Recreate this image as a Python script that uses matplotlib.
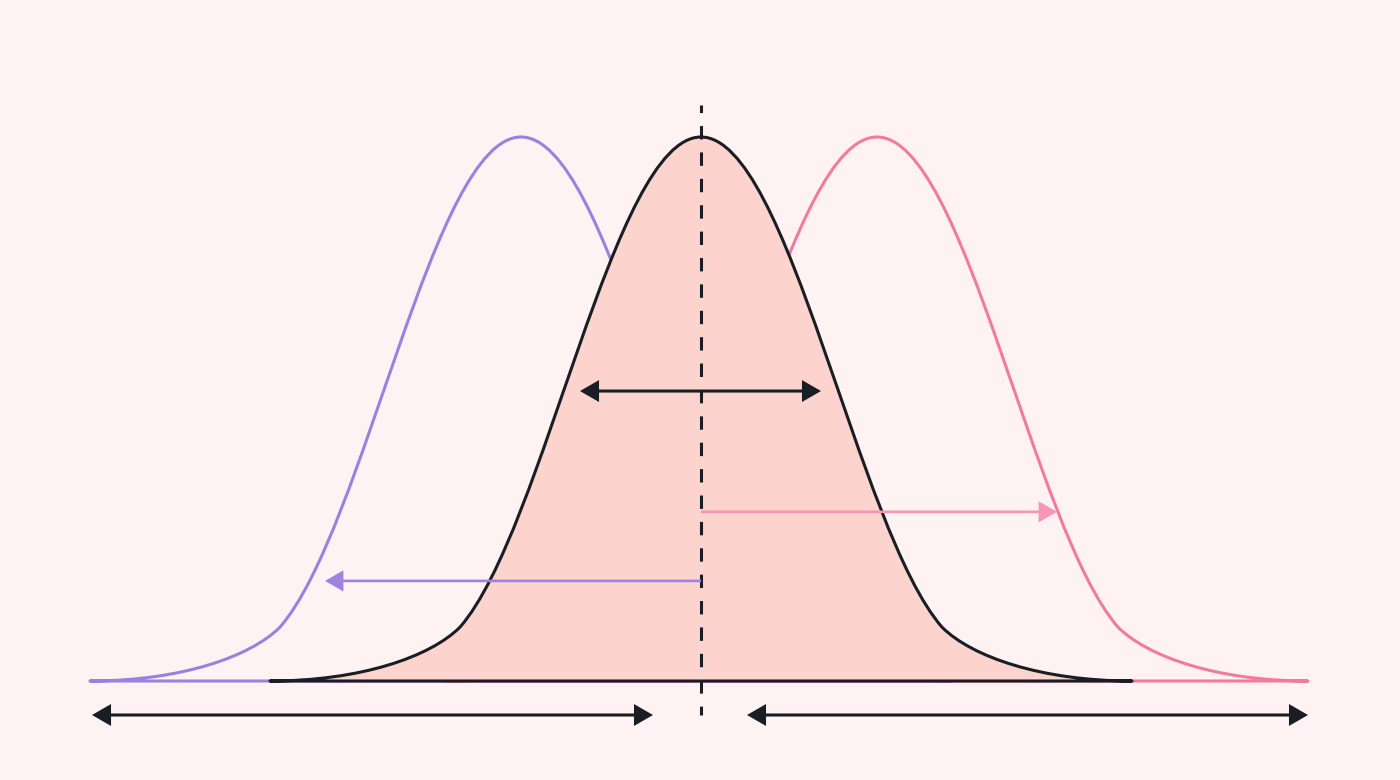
import matplotlib
matplotlib.use("Agg")
import matplotlib.pyplot as plt
from matplotlib.path import Path
from matplotlib.patches import PathPatch, FancyArrowPatch

plt.rcParams['lines.scale_dashes'] = False

# ---------------- data ----------------
series = ["lower", "reference", "higher"]
means = [-1.80, 0.00, 1.76]
peaks = [1.0, 1.0, 1.0]
# half bell shape as cubic Bezier control points (distance from mean, height)
tail_ctrl_d = [4.31, 3.41, 2.71, 2.41]
tail_ctrl_h = [0.0, 0.0, 0.044, 0.099]
rise_ctrl_d = [2.41, 1.56, 0.88, 0.0]
rise_ctrl_h = [0.099, 0.279, 1.0, 1.0]

spread_arrow_x = [-1.21, 1.20]
spread_arrow_y = 0.533
shift_right_x = [0.0, 3.56]
shift_right_y = 0.311
shift_left_x = [0.0, -3.76]
shift_left_y = 0.184
range_left_x = [-6.09, -0.48]
range_right_x = [0.46, 6.07]
range_y = -0.0625
mean_line_y = [1.059, -0.0625]

# ---------------- style ----------------
BG = '#FEF3F2'
FILL = '#FDD3CE'
BLACK = '#191D24'
PURPLE = '#9D7FE0'
PINK = '#F27A9F'
PINK_ARROW = '#F597B4'
PURPLE_ARROW = '#A083E0'
line_colors = [PURPLE, BLACK, PINK]

fig = plt.figure(figsize=(14, 7.8), dpi=100, facecolor=BG)
ax = fig.add_axes([0, 0, 1, 1])
ax.set_facecolor(BG)
ax.set_xlim(-7.01, 6.99)
ax.set_ylim(-99 / 544, 681 / 544)
ax.axis('off')


def bell_path(m, pk):
    verts = [(m - tail_ctrl_d[0], tail_ctrl_h[0] * pk)]
    codes = [Path.MOVETO]
    for d, h in zip(tail_ctrl_d[1:], tail_ctrl_h[1:]):
        verts.append((m - d, h * pk)); codes.append(Path.CURVE4)
    for d, h in zip(rise_ctrl_d[1:], rise_ctrl_h[1:]):
        verts.append((m - d, h * pk)); codes.append(Path.CURVE4)
    for d, h in zip(rise_ctrl_d[::-1][1:], rise_ctrl_h[::-1][1:]):
        verts.append((m + d, h * pk)); codes.append(Path.CURVE4)
    for d, h in zip(tail_ctrl_d[::-1][1:], tail_ctrl_h[::-1][1:]):
        verts.append((m + d, h * pk)); codes.append(Path.CURVE4)
    verts.append((m - tail_ctrl_d[0], 0)); codes.append(Path.LINETO)
    verts.append((m - tail_ctrl_d[0], 0)); codes.append(Path.CLOSEPOLY)
    return Path(verts, codes)


LW = 2.2
for i in (0, 2):
    ax.add_patch(PathPatch(bell_path(means[i], peaks[i]), facecolor='none',
                           edgecolor=line_colors[i], lw=LW, zorder=1,
                           joinstyle='round'))
ax.add_patch(PathPatch(bell_path(means[1], peaks[1]), facecolor=FILL,
                       edgecolor=BLACK, lw=LW, zorder=2, joinstyle='round'))

# dashed mean line
ax.plot([means[1], means[1]], mean_line_y, color=BLACK, lw=2.2,
        linestyle=(4.2, (9.65, 9.35)), dash_capstyle='butt', zorder=3)


def arrow(x0, x1, y, color, lw, style):
    ax.add_patch(FancyArrowPatch((x0, y), (x1, y), arrowstyle=style,
                                 mutation_scale=1, color=color, lw=lw,
                                 shrinkA=0, shrinkB=0, zorder=4,
                                 capstyle='butt', joinstyle='miter'))


head = "head_length=10.4,head_width=6"
arrow(spread_arrow_x[0], spread_arrow_x[1], spread_arrow_y, BLACK, 2.2, "<|-|>," + head)
arrow(shift_right_x[0], shift_right_x[1], shift_right_y, PINK_ARROW, 1.9, "-|>," + head)
arrow(shift_left_x[0], shift_left_x[1], shift_left_y, PURPLE_ARROW, 1.9, "-|>," + head)
arrow(range_left_x[0], range_left_x[1], range_y, BLACK, 2.2, "<|-|>," + head)
arrow(range_right_x[0], range_right_x[1], range_y, BLACK, 2.2, "<|-|>," + head)

fig.savefig('out.png', dpi=100, facecolor=BG)
